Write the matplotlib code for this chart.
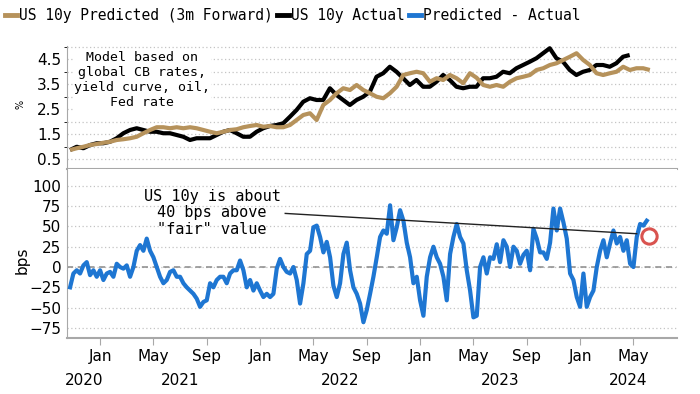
import matplotlib
matplotlib.use("Agg")
import matplotlib.pyplot as plt
import matplotlib.dates as mdates
import matplotlib.transforms as mtransforms
from matplotlib.lines import Line2D
import pandas as pd

# values (approx.)
pred_pct = [0.86, 0.93, 0.99, 1.06, 1.10, 1.15, 1.19, 1.26, 1.29, 1.33, 1.39, 1.53, 1.66, 1.77, 1.77, 1.73,
            1.77, 1.73, 1.77, 1.73, 1.66, 1.59, 1.53, 1.59, 1.66, 1.69, 1.77, 1.82, 1.86, 1.79, 1.82,
            1.77, 1.77, 1.86, 2.06, 2.26, 2.33, 2.06, 2.66, 2.86, 3.13, 3.33, 3.26, 3.46, 3.26, 3.13,
            2.99, 2.93, 3.13, 3.39, 3.86, 3.93, 3.99, 3.93, 3.59, 3.73, 3.66, 3.86, 3.73, 3.53, 3.93,
            3.75, 3.46, 3.39, 3.46, 3.39, 3.59, 3.73, 3.79, 3.86, 4.06, 4.13, 4.26, 4.33, 4.46, 4.59,
            4.73, 4.46, 4.26, 3.93, 3.86, 3.93, 3.99, 4.19, 4.06, 4.13, 4.13, 4.06]
actual_pct = [0.86, 0.99, 0.93, 1.06, 1.13, 1.13, 1.19, 1.33, 1.53, 1.66, 1.73, 1.66, 1.59, 1.59, 1.53, 1.53,
              1.46, 1.39, 1.26, 1.33, 1.33, 1.33, 1.46, 1.59, 1.66, 1.53, 1.39, 1.39, 1.59, 1.73, 1.82,
              1.86, 1.93, 2.19, 2.46, 2.79, 2.93, 2.86, 2.86, 3.33, 3.06, 2.86, 2.66, 2.86, 2.99, 3.19,
              3.79, 3.93, 4.19, 3.99, 3.73, 3.46, 3.66, 3.39, 3.39, 3.59, 3.86, 3.66, 3.39, 3.33, 3.39,
              3.39, 3.73, 3.73, 3.79, 3.99, 3.93, 4.13, 4.26, 4.39, 4.53, 4.73, 4.93, 4.53, 4.39, 4.06,
              3.86, 3.99, 4.06, 4.26, 4.26, 4.19, 4.33, 4.59, 4.66]
gap_bps = [-25, -8, -4, -8, 2, 6, -10, -4, -12, -4, -16, -8, -6, -12, 4, 0, -2, 2, -12, 0,
           20, 27, 20, 35, 20, 12, 0, -12, -20, -16, -6, -4, -12, -12, -20, -25, -29, -33, -39, -49,
           -43, -41, -20, -25, -16, -12, -12, -20, -8, -4, -4, 8, -4, -25, -16, -29, -20, -29, -37, -33,
           -37,
           -33, -2, 10, 0, -6, -8, 0, -16, -45, -20, 16, 20, 49, 51, 37, 18, 31, 12, -23, -37,
           -20, 16, 30, -4, -25, -33, -45, -68, -53, -33, -12, 12, 37, 45, 41, 76, 33, 49, 70, 57,
           30, 12, -20, -12, -41, -60, -12, 12, 25, 12, 4, -12, -41, 16, 37, 53, 37, 29, -4, -29,
           -62,
           -60, 0, 12, -8, 12, 10, 28, 6, 33, 25, 0, 25, 20, 4, 15, 20, -4, 47, 35, 18,
           18, 10, 30, 72, 45, 72, 55, 35, -8, -16, -37, -49, -8, -49, -37, -29, 0, 20, 33, 12,
           29, 45, 29, 37, 20, 33, 4, 0, 37, 53, 51, 57]

pred_dates = pd.date_range("2020-10-24", "2024-06-08", periods=len(pred_pct))
actual_dates = pd.date_range("2020-10-24", "2024-04-23", periods=len(actual_pct))
gap_dates = pd.date_range("2020-10-24", "2024-06-01", periods=len(gap_bps))

years = [2020, 2021, 2022, 2023, 2024]
note_top = "Model based on\nglobal CB rates,\nyield curve, oil,\nFed rate"
note_bot = "US 10y is about\n40 bps above\n\"fair\" value"
callout_from = (pd.Timestamp("2022-02-27"), 66)
callout_to = (pd.Timestamp("2024-05-09"), 41)
circle_at = (pd.Timestamp("2024-06-06"), 38)

TAN = "#b6925b"
BLUE = "#1e76d2"
GRID = "#c4c4c4"
SPINE = "#a8a8a8"
MONO = "DejaVu Sans Mono"

plt.rcParams["font.family"] = "DejaVu Sans"

fig = plt.figure(figsize=(7, 3.94), dpi=100)
L, R = 67 / 700, 677 / 700
ax1 = fig.add_axes([L, 1 - 169 / 394, R - L, (169 - 46) / 394])
ax2 = fig.add_axes([L, 1 - 338 / 394, R - L, (338 - 169) / 394], sharex=ax1)

xlim = (pd.Timestamp("2020-10-17"), pd.Timestamp("2024-08-09"))

# top panel
ax1.plot(actual_dates, actual_pct, color="black", lw=3, solid_capstyle="butt", zorder=3)
ax1.plot(pred_dates, pred_pct, color=TAN, lw=3, solid_capstyle="butt", zorder=3)
ax1.set_ylim(0.1, 5.02)
ax1.set_yticks([0.5, 1.5, 2.5, 3.5, 4.5])
ax1.set_yticks([1.0, 2.0, 3.0, 4.0, 5.0], minor=True)
ax1.grid(axis="y", which="both", color=GRID, lw=0.9, ls=(0, (1, 2)))
ax1.text(0.123, 0.72, note_top, transform=ax1.transAxes, ha="center", va="center",
         family=MONO, fontsize=9.5, linespacing=1.2,
         bbox=dict(facecolor="white", edgecolor="none", pad=1), zorder=4)

# bottom panel
ax2.plot(gap_dates, gap_bps, color=BLUE, lw=3, zorder=3)
ax2.axhline(0, color="#8a8a8a", lw=1.1, ls=(0, (4, 3)), zorder=2)
ax2.set_ylim(-87.4, 120.7)
ax2.set_yticks([100, 75, 50, 25, 0, -25, -50, -75])
ax2.grid(axis="y", color=GRID, lw=0.9, ls=(0, (1, 2)))
ax2.plot([callout_from[0], callout_to[0]], [callout_from[1], callout_to[1]],
         color="#222222", lw=1, zorder=4)
ax2.plot([circle_at[0]], [circle_at[1]], "o", mfc="none", mec="#d9534f", ms=11, mew=2.2, zorder=5)
ax2.text(0.238, 0.74, note_bot, transform=ax2.transAxes, ha="center", va="center",
         family=MONO, fontsize=11, linespacing=1.15, zorder=4)

for ax in (ax1, ax2):
    for s in ("top", "right"):
        ax.spines[s].set_visible(False)
    ax.spines["left"].set_color(SPINE)
    ax.spines["bottom"].set_color(SPINE)
    ax.spines["bottom"].set_linewidth(1.5)
    ax.tick_params(axis="y", length=0, labelsize=11, pad=4)
    ax.set_axisbelow(True)

ax1.tick_params(axis="x", which="both", length=0, labelbottom=False)
ax2.set_xlim(*xlim)
ax2.xaxis.set_major_locator(mdates.MonthLocator(bymonth=[1, 5, 9]))
ax2.xaxis.set_major_formatter(mdates.DateFormatter("%b"))
ax2.tick_params(axis="x", length=5, color=SPINE, labelsize=11, pad=3)

# year labels centred on the visible part of each year
trans = mtransforms.blended_transform_factory(ax2.transData, ax2.transAxes)
x0, x1 = mdates.date2num(xlim[0]), mdates.date2num(xlim[1])
for y in years:
    a = max(mdates.date2num(pd.Timestamp(f"{y}-01-01")), x0)
    b = min(mdates.date2num(pd.Timestamp(f"{y + 1}-01-01")), x1)
    ax2.text((a + b) / 2, -0.254, str(y), transform=trans, ha="center", va="center", fontsize=11)

fig.text(20 / 700, 1 - 104 / 394, "%", rotation=90, fontsize=7, ha="center", va="center")
fig.text(22 / 700, 1 - 260 / 394, "bps", rotation=90, fontsize=11, ha="center", va="center")

handles = [Line2D([], [], color=TAN, lw=3.5), Line2D([], [], color="black", lw=3.5),
           Line2D([], [], color=BLUE, lw=3.5)]
labels = ["US 10y Predicted (3m Forward)", "US 10y Actual", "Predicted - Actual"]
fig.legend(handles, labels, loc="upper left", bbox_to_anchor=(5 / 700, 1 - 8 / 394), ncol=3,
           frameon=False, prop={"family": MONO, "size": 10.5}, handlelength=0.8,
           handletextpad=0.15, columnspacing=0.3, borderaxespad=0, borderpad=0)

fig.savefig("out.png", dpi=100)
